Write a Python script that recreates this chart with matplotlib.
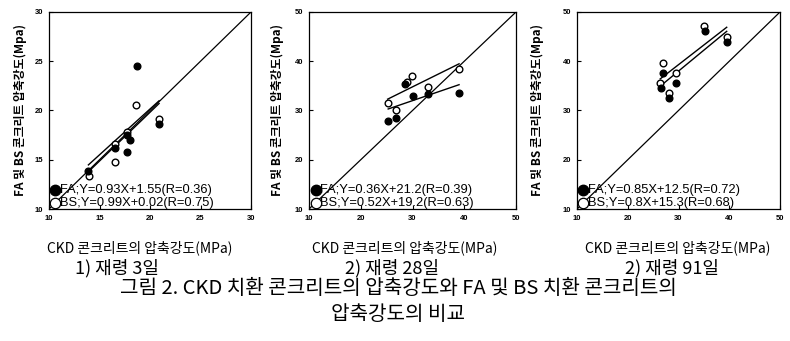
import matplotlib.pyplot as plt
import numpy as np

plt.rcParams['font.family'] = ['Liberation Sans', 'Noto Sans CJK KR', 'DejaVu Sans']

# 재령 3일 (CKD vs FA / BS)
x3_fa = [18.7, 20.9, 18.0, 17.7, 16.5, 13.9, 17.7]
y3_fa = [24.5, 18.6, 17.0, 15.8, 16.2, 13.9, 17.5]
x3_bs = [18.6, 20.9, 16.5, 14.0, 17.7, 16.5]
y3_bs = [20.6, 19.1, 14.8, 13.3, 17.8, 16.6]

# 재령 28일
x28_fa = [25.3, 26.9, 28.6, 30.0, 32.9, 39.0]
y28_fa = [27.9, 28.4, 35.3, 32.9, 33.3, 33.5]
x28_bs = [25.2, 26.9, 28.9, 29.9, 32.9, 39.0]
y28_bs = [31.5, 30.0, 35.8, 37.0, 34.8, 38.4]

# 재령 91일
x91_fa = [35.2, 39.5, 26.9, 29.6, 26.5, 28.1]
y91_fa = [46.1, 44.0, 37.6, 35.5, 34.5, 32.5]
x91_bs = [35.1, 39.5, 26.9, 29.6, 26.4, 28.1]
y91_bs = [47.2, 44.9, 39.6, 37.6, 35.5, 33.5]

# 회귀식 (기울기, 절편, R)
fit3 = [(0.93, 1.55, 0.36), (0.99, 0.02, 0.75)]
fit28 = [(0.36, 21.2, 0.39), (0.52, 19.2, 0.63)]
fit91 = [(0.85, 12.5, 0.72), (0.8, 15.3, 0.68)]

eq3 = ['FA;Y=0.93X+1.55(R=0.36)', 'BS;Y=0.99X+0.02(R=0.75)']
eq28 = ['FA;Y=0.36X+21.2(R=0.39)', 'BS;Y=0.52X+19.2(R=0.63)']
eq91 = ['FA;Y=0.85X+12.5(R=0.72)', 'BS;Y=0.8X+15.3(R=0.68)']

lims = [(10, 30), (10, 50), (10, 50)]
ticks = [[10, 15, 20, 25, 30], [10, 20, 30, 40, 50], [10, 20, 30, 40, 50]]
titles = ['1) 재령 3일', '2) 재령 28일', '2) 재령 91일']

W, H = 790, 341
fig = plt.figure(figsize=(W / 100, H / 100), dpi=100)
kr = ['Noto Sans CJK KR', 'DejaVu Sans']

# 패널 위치 (px: left, right, top, bottom)
boxes = [(49, 251, 12, 209), (309, 516, 12, 209), (577, 780, 12, 209)]
ylab_x = [20, 277, 537]
xlab_x = [140, 405, 678]
title_x = [117, 392, 672]

data = [(x3_fa, y3_fa, x3_bs, y3_bs, fit3, eq3),
        (x28_fa, y28_fa, x28_bs, y28_bs, fit28, eq28),
        (x91_fa, y91_fa, x91_bs, y91_bs, fit91, eq91)]

for i, (xf, yf, xb, yb, fits, eqs) in enumerate(data):
    l, r, t, b = boxes[i]
    ax = fig.add_axes([l / W, 1 - b / H, (r - l) / W, (b - t) / H])
    lo, hi = lims[i]
    ax.set_xlim(lo, hi)
    ax.set_ylim(lo, hi)
    ax.set_xticks(ticks[i])
    ax.set_yticks(ticks[i])
    ax.tick_params(direction='in', length=3, width=0.8, labelsize=5.5, pad=4)
    for lab in ax.get_xticklabels() + ax.get_yticklabels():
        lab.set_fontweight('bold')
    for s in ax.spines.values():
        s.set_linewidth(0.9)

    # 1:1 선
    ax.plot([lo, hi], [lo, hi], color='black', lw=0.9)

    # 회귀선
    for (a, c, _), xs in zip(fits, [xf, xb]):
        xx = np.array([min(xs), max(xs)])
        ax.plot(xx, a * xx + c, color='black', lw=1.0)

    ax.plot(xb, yb, 'o', ms=4.8, mfc='white', mec='black', mew=1.0)
    ax.plot(xf, yf, 'o', ms=4.8, mfc='black', mec='black')

    # 범례 (BS 표시는 1:1 선 위에 놓임)
    span = hi - lo
    mx = lo + 0.032 * span
    y_fa = lo + 0.094 * span
    y_bs = lo + 0.032 * span
    ax.plot([mx], [y_fa], 'o', ms=7.5, mfc='black', mec='black')
    ax.plot([mx], [y_bs], 'o', ms=7.5, mfc='white', mec='black', mew=0.9)
    ax.text(mx + 0.02 * span, y_fa, eqs[0], fontsize=9.3, va='center', ha='left')
    ax.text(mx + 0.02 * span, y_bs, eqs[1], fontsize=9.3, va='center', ha='left')

    fig.text(ylab_x[i] / W, 1 - 110 / H, 'FA 및 BS 콘크리트 압축강도(Mpa)',
             rotation=90, fontsize=8.5, fontweight='bold', ha='center', va='center',
             family=kr)
    fig.text(xlab_x[i] / W, 1 - 248 / H, 'CKD 콘크리트의 압축강도(MPa)',
             fontsize=10, ha='center', va='center', family=kr)
    fig.text(title_x[i] / W, 1 - 268 / H, titles[i], fontsize=13,
             ha='center', va='center', family=kr)

fig.text(398 / W, 1 - 289 / H, '그림 2. CKD 치환 콘크리트의 압축강도와 FA 및 BS 치환 콘크리트의',
         fontsize=14.5, ha='center', va='center', family=kr)
fig.text(398 / W, 1 - 314 / H, '압축강도의 비교',
         fontsize=14.5, ha='center', va='center', family=kr)

fig.savefig('out.png', dpi=100)
